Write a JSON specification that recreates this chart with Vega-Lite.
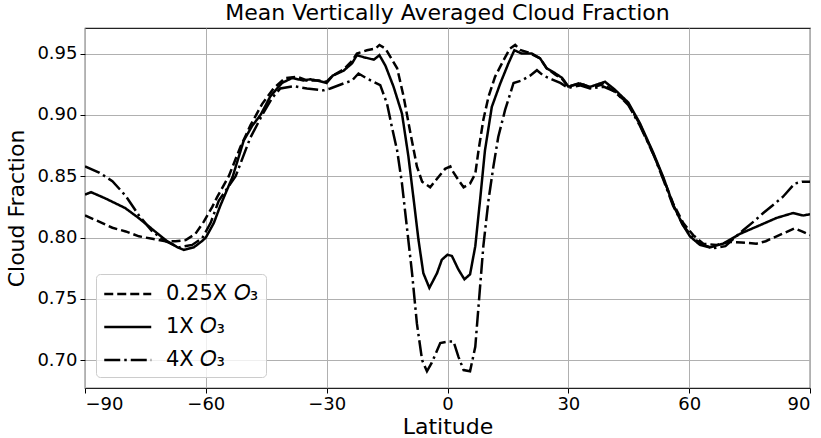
{
  "$schema": "https://vega.github.io/schema/vega-lite/v6.json",
  "width": 725,
  "height": 360,
  "autosize": {"type": "none"},
  "padding": {"left": 85, "top": 28, "right": 11, "bottom": 50},
  "background": "white",
  "title": {"text": "Mean Vertically Averaged Cloud Fraction", "font": "DejaVu Sans", "fontSize": 22, "fontWeight": "normal", "color": "black", "offset": 3, "anchor": "middle"},
  "config": {
    "view": {"stroke": "#222", "strokeWidth": 1.2},
    "font": "DejaVu Sans"
  },
  "datasets": {
    "d1": [
      {"lat": -90, "v": 0.835}, {"lat": -88.5, "v": 0.837}, {"lat": -85, "v": 0.832}, {"lat": -80, "v": 0.824},
      {"lat": -76.7, "v": 0.816}, {"lat": -73, "v": 0.806}, {"lat": -70, "v": 0.798}, {"lat": -67, "v": 0.792},
      {"lat": -65.5, "v": 0.790}, {"lat": -63, "v": 0.792}, {"lat": -61, "v": 0.797}, {"lat": -60, "v": 0.800},
      {"lat": -58, "v": 0.812}, {"lat": -56.4, "v": 0.826}, {"lat": -53.3, "v": 0.850}, {"lat": -50.6, "v": 0.879},
      {"lat": -48.5, "v": 0.891}, {"lat": -46.4, "v": 0.900}, {"lat": -44, "v": 0.915}, {"lat": -41.1, "v": 0.926},
      {"lat": -38.6, "v": 0.930}, {"lat": -35.7, "v": 0.928}, {"lat": -34.1, "v": 0.929}, {"lat": -32.4, "v": 0.928},
      {"lat": -30, "v": 0.926}, {"lat": -28.5, "v": 0.932}, {"lat": -25.8, "v": 0.936}, {"lat": -23.7, "v": 0.942},
      {"lat": -22.5, "v": 0.9486}, {"lat": -20.8, "v": 0.947}, {"lat": -18.3, "v": 0.945}, {"lat": -16.9, "v": 0.9486},
      {"lat": -15.4, "v": 0.940}, {"lat": -13.4, "v": 0.923}, {"lat": -11.3, "v": 0.901}, {"lat": -9.7, "v": 0.866},
      {"lat": -8.4, "v": 0.831}, {"lat": -7.2, "v": 0.798}, {"lat": -6.0, "v": 0.771}, {"lat": -4.5, "v": 0.759},
      {"lat": -2.6, "v": 0.771}, {"lat": -1.4, "v": 0.782}, {"lat": 0, "v": 0.786}, {"lat": 1.1, "v": 0.785},
      {"lat": 2.7, "v": 0.774}, {"lat": 4.2, "v": 0.766}, {"lat": 5.6, "v": 0.770}, {"lat": 6.9, "v": 0.793},
      {"lat": 8.1, "v": 0.831}, {"lat": 9.3, "v": 0.871}, {"lat": 11.0, "v": 0.9065}, {"lat": 13.1, "v": 0.9256},
      {"lat": 15.1, "v": 0.9418}, {"lat": 16.6, "v": 0.9527}, {"lat": 18.4, "v": 0.950}, {"lat": 20.9, "v": 0.950},
      {"lat": 23.0, "v": 0.946}, {"lat": 24.6, "v": 0.938}, {"lat": 26.7, "v": 0.934}, {"lat": 28.5, "v": 0.930},
      {"lat": 30, "v": 0.923}, {"lat": 32.9, "v": 0.9256}, {"lat": 35.4, "v": 0.9228}, {"lat": 39.1, "v": 0.927},
      {"lat": 41.4, "v": 0.921}, {"lat": 44.9, "v": 0.910}, {"lat": 47.8, "v": 0.893}, {"lat": 51.1, "v": 0.869},
      {"lat": 53.6, "v": 0.849}, {"lat": 56, "v": 0.827}, {"lat": 58.3, "v": 0.811}, {"lat": 60.2, "v": 0.801},
      {"lat": 62.7, "v": 0.794}, {"lat": 65.1, "v": 0.792}, {"lat": 68.4, "v": 0.795}, {"lat": 72.6, "v": 0.803},
      {"lat": 77.5, "v": 0.810}, {"lat": 81.7, "v": 0.816}, {"lat": 85.8, "v": 0.820}, {"lat": 88.3, "v": 0.818},
      {"lat": 90, "v": 0.819}
    ],
    "d025": [
      {"lat": -90, "v": 0.818}, {"lat": -86.5, "v": 0.813}, {"lat": -83.2, "v": 0.808}, {"lat": -79.9, "v": 0.805},
      {"lat": -76.6, "v": 0.801}, {"lat": -73.3, "v": 0.799}, {"lat": -70, "v": 0.797}, {"lat": -67.5, "v": 0.797},
      {"lat": -65, "v": 0.798}, {"lat": -62.6, "v": 0.803}, {"lat": -60.5, "v": 0.813}, {"lat": -58.4, "v": 0.825},
      {"lat": -57.2, "v": 0.833}, {"lat": -54.3, "v": 0.850}, {"lat": -51.4, "v": 0.874}, {"lat": -48.9, "v": 0.8916},
      {"lat": -46.0, "v": 0.909}, {"lat": -43.2, "v": 0.9215}, {"lat": -40.3, "v": 0.930}, {"lat": -37.3, "v": 0.931},
      {"lat": -34.9, "v": 0.928}, {"lat": -32, "v": 0.928}, {"lat": -30, "v": 0.927}, {"lat": -28.5, "v": 0.932},
      {"lat": -25.8, "v": 0.937}, {"lat": -23.7, "v": 0.944}, {"lat": -22.5, "v": 0.950}, {"lat": -20, "v": 0.9527},
      {"lat": -17.9, "v": 0.954}, {"lat": -16.9, "v": 0.957}, {"lat": -15.4, "v": 0.954}, {"lat": -12.5, "v": 0.938},
      {"lat": -10.9, "v": 0.915}, {"lat": -9.2, "v": 0.885}, {"lat": -7.6, "v": 0.858}, {"lat": -6.3, "v": 0.8455},
      {"lat": -4.3, "v": 0.841}, {"lat": -2.6, "v": 0.848}, {"lat": -0.6, "v": 0.856}, {"lat": 0.7, "v": 0.858},
      {"lat": 1.1, "v": 0.855}, {"lat": 2.7, "v": 0.847}, {"lat": 4.0, "v": 0.841}, {"lat": 5.6, "v": 0.844},
      {"lat": 6.9, "v": 0.852}, {"lat": 7.7, "v": 0.871}, {"lat": 8.9, "v": 0.896}, {"lat": 10.2, "v": 0.915},
      {"lat": 11.8, "v": 0.931}, {"lat": 13.9, "v": 0.9445}, {"lat": 15.5, "v": 0.954}, {"lat": 16.8, "v": 0.957},
      {"lat": 18.0, "v": 0.953}, {"lat": 20, "v": 0.951}, {"lat": 23, "v": 0.946}, {"lat": 24.6, "v": 0.938},
      {"lat": 26.7, "v": 0.933}, {"lat": 28.5, "v": 0.929}, {"lat": 30, "v": 0.923}, {"lat": 32.9, "v": 0.926},
      {"lat": 35.4, "v": 0.922}, {"lat": 38.7, "v": 0.925}, {"lat": 41.4, "v": 0.919}, {"lat": 44.9, "v": 0.909},
      {"lat": 47.8, "v": 0.892}, {"lat": 51.1, "v": 0.868}, {"lat": 53.6, "v": 0.848}, {"lat": 56, "v": 0.828},
      {"lat": 58.5, "v": 0.812}, {"lat": 61, "v": 0.802}, {"lat": 63.5, "v": 0.795}, {"lat": 65.1, "v": 0.7945},
      {"lat": 66.8, "v": 0.794}, {"lat": 70.1, "v": 0.7965}, {"lat": 73, "v": 0.796}, {"lat": 76.7, "v": 0.795},
      {"lat": 79, "v": 0.797}, {"lat": 81.7, "v": 0.801}, {"lat": 86.2, "v": 0.8075}, {"lat": 88, "v": 0.805},
      {"lat": 90, "v": 0.802}
    ],
    "d4": [
      {"lat": -90, "v": 0.858}, {"lat": -86.5, "v": 0.853}, {"lat": -83.2, "v": 0.846}, {"lat": -79.9, "v": 0.834},
      {"lat": -76.6, "v": 0.818}, {"lat": -73.3, "v": 0.805}, {"lat": -70, "v": 0.797}, {"lat": -66.7, "v": 0.792},
      {"lat": -63.4, "v": 0.794}, {"lat": -60.9, "v": 0.7995}, {"lat": -58.8, "v": 0.812}, {"lat": -56.8, "v": 0.830},
      {"lat": -52.6, "v": 0.850}, {"lat": -49, "v": 0.881}, {"lat": -46.0, "v": 0.900}, {"lat": -43.5, "v": 0.914},
      {"lat": -41.5, "v": 0.9215}, {"lat": -38.2, "v": 0.9234}, {"lat": -34.9, "v": 0.9215}, {"lat": -30.7, "v": 0.920},
      {"lat": -29.1, "v": 0.9215}, {"lat": -25.8, "v": 0.9256}, {"lat": -23.7, "v": 0.928}, {"lat": -22.1, "v": 0.9337},
      {"lat": -20, "v": 0.9296}, {"lat": -16.7, "v": 0.9242}, {"lat": -15.0, "v": 0.909}, {"lat": -13.8, "v": 0.890},
      {"lat": -12.5, "v": 0.871}, {"lat": -11.3, "v": 0.844}, {"lat": -10.1, "v": 0.809}, {"lat": -8.8, "v": 0.771},
      {"lat": -7.6, "v": 0.730}, {"lat": -6.3, "v": 0.700}, {"lat": -5.1, "v": 0.691}, {"lat": -3.9, "v": 0.698},
      {"lat": -1.8, "v": 0.714}, {"lat": 0.2, "v": 0.7153}, {"lat": 1.5, "v": 0.7153}, {"lat": 2.7, "v": 0.703},
      {"lat": 4.0, "v": 0.692}, {"lat": 5.6, "v": 0.691}, {"lat": 6.9, "v": 0.711}, {"lat": 7.7, "v": 0.744},
      {"lat": 8.9, "v": 0.793}, {"lat": 10.2, "v": 0.831}, {"lat": 11.4, "v": 0.858}, {"lat": 12.6, "v": 0.882},
      {"lat": 14.3, "v": 0.904}, {"lat": 16.4, "v": 0.926}, {"lat": 18.4, "v": 0.928}, {"lat": 20.5, "v": 0.932},
      {"lat": 22.2, "v": 0.9364}, {"lat": 23.8, "v": 0.932}, {"lat": 25.9, "v": 0.929}, {"lat": 28, "v": 0.926},
      {"lat": 30, "v": 0.922}, {"lat": 32.9, "v": 0.924}, {"lat": 35.4, "v": 0.9215}, {"lat": 38.7, "v": 0.923},
      {"lat": 41.6, "v": 0.919}, {"lat": 44.9, "v": 0.908}, {"lat": 47.8, "v": 0.891}, {"lat": 51.1, "v": 0.868},
      {"lat": 53.6, "v": 0.847}, {"lat": 56, "v": 0.826}, {"lat": 58.5, "v": 0.810}, {"lat": 61, "v": 0.7995},
      {"lat": 63.5, "v": 0.794}, {"lat": 66, "v": 0.7913}, {"lat": 69, "v": 0.793}, {"lat": 71, "v": 0.799},
      {"lat": 73.4, "v": 0.806}, {"lat": 76, "v": 0.813}, {"lat": 78.4, "v": 0.820}, {"lat": 81, "v": 0.827},
      {"lat": 83.3, "v": 0.8333}, {"lat": 86.2, "v": 0.844}, {"lat": 88, "v": 0.8455}, {"lat": 90, "v": 0.8455}
    ]
  },
  "layer": [
    {
      "data": {"name": "d025"},
      "transform": [{"calculate": "'0.25X 𝑂₃'", "as": "series"}],
      "mark": {"type": "line", "color": "black", "strokeWidth": 2.5, "clip": true},
      "encoding": {
        "x": {"field": "lat", "type": "quantitative", "scale": {"domain": [-90, 90], "nice": false, "zero": false},
          "axis": {"values": [-90, -60, -30, 0, 30, 60, 90], "title": "Latitude", "titleFont": "DejaVu Sans", "titleFontSize": 22, "titleFontWeight": "normal", "titleColor": "black", "titlePadding": 3,
            "labelFont": "DejaVu Sans", "labelFontSize": 18, "labelColor": "black", "labelPadding": 2, "labelExpr": "replace(datum.label, '-', '−')",
            "grid": true, "gridColor": "#b0b0b0", "gridWidth": 1, "domain": false, "tickColor": "black", "tickSize": 5, "tickWidth": 1}},
        "y": {"field": "v", "type": "quantitative", "scale": {"domain": [0.6774, 0.9708], "nice": false, "zero": false},
          "axis": {"values": [0.70, 0.75, 0.80, 0.85, 0.90, 0.95], "format": ".2f", "title": "Cloud Fraction", "titleFont": "DejaVu Sans", "titleFontSize": 22, "titleFontWeight": "normal", "titleColor": "black", "titlePadding": 8,
            "labelFont": "DejaVu Sans", "labelFontSize": 18, "labelColor": "black", "labelPadding": 3,
            "grid": true, "gridColor": "#b0b0b0", "gridWidth": 1, "domain": false, "tickColor": "black", "tickSize": 5, "tickWidth": 1}},
        "strokeDash": {"field": "series", "type": "nominal",
          "scale": {"domain": ["0.25X 𝑂₃", "1X 𝑂₃", "4X 𝑂₃"], "range": [[9, 4], [1, 0], [16, 4, 2.5, 4]]},
          "legend": {"title": null, "orient": "bottom-left", "offset": 11, "padding": 7, "labelFont": "DejaVu Sans", "labelFontSize": 21, "labelColor": "black", "labelOffset": 37,
            "symbolType": "M-1,0H3", "symbolSize": 552, "symbolStrokeWidth": 2.5, "symbolStrokeColor": "black", "symbolFillColor": "transparent", "rowPadding": 10,
            "fillColor": "rgba(255,255,255,0.8)", "strokeColor": "#cccccc", "cornerRadius": 4}}
      }
    },
    {
      "data": {"name": "d1"},
      "transform": [{"calculate": "'1X 𝑂₃'", "as": "series"}],
      "mark": {"type": "line", "color": "black", "strokeWidth": 2.5, "clip": true},
      "encoding": {
        "x": {"field": "lat", "type": "quantitative"},
        "y": {"field": "v", "type": "quantitative"},
        "strokeDash": {"field": "series", "type": "nominal"}
      }
    },
    {
      "data": {"name": "d4"},
      "transform": [{"calculate": "'4X 𝑂₃'", "as": "series"}],
      "mark": {"type": "line", "color": "black", "strokeWidth": 2.5, "clip": true},
      "encoding": {
        "x": {"field": "lat", "type": "quantitative"},
        "y": {"field": "v", "type": "quantitative"},
        "strokeDash": {"field": "series", "type": "nominal"}
      }
    }
  ]
}
